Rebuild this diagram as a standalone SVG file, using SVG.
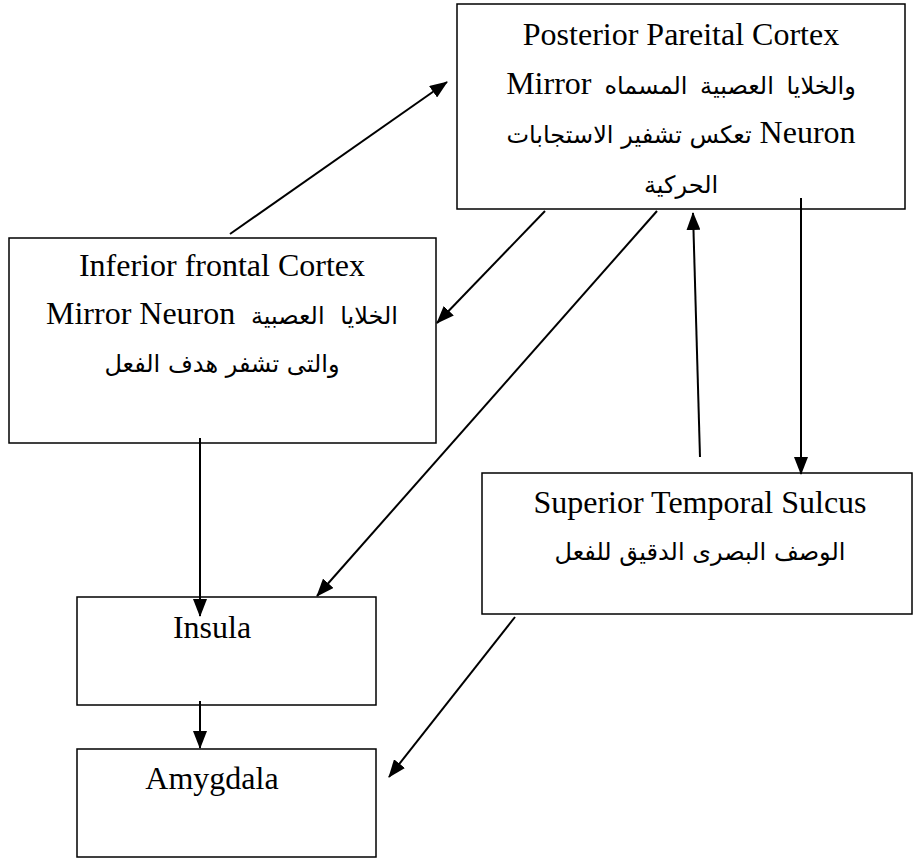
<svg xmlns="http://www.w3.org/2000/svg" width="914" height="859" viewBox="0 0 914 859">
<style>
.box{fill:#fff;stroke:#000;stroke-width:1.5}
.t{font-family:"Liberation Serif","DejaVu Sans",serif;font-size:32px;fill:#000;text-anchor:middle}
.ar{font-family:"DejaVu Sans","Liberation Serif",sans-serif;font-size:24px}
.c{fill:none;stroke:#000;stroke-width:2;marker-end:url(#ah)}
</style>
<defs>
<marker id="ah" markerUnits="userSpaceOnUse" markerWidth="18" markerHeight="14" refX="17" refY="7" orient="auto">
<path d="M0,0 L18,7 L0,14 z" fill="#000"/>
</marker>
</defs>
<rect width="914" height="859" fill="#fff"/>
<g id="posterior">
<rect class="box" x="457" y="4" width="448" height="205"/>
<text class="t" x="681" y="45">Posterior Pareital Cortex</text>
<text class="t" x="681" y="94" direction="rtl" word-spacing="5"><tspan class="ar">والخلايا العصبية المسماه</tspan>  Mirror</text>
<text class="t" x="681" y="143" direction="rtl">Neuron <tspan class="ar">تعكس تشفير الاستجابات</tspan></text>
<text class="t" x="681" y="193" direction="rtl"><tspan class="ar">الحركية</tspan></text>
</g>
<g id="inferior">
<rect class="box" x="9" y="238" width="427" height="205"/>
<text class="t" x="222" y="276">Inferior frontal Cortex</text>
<text class="t" x="222" y="324" direction="rtl"><tspan class="ar" word-spacing="8">الخلايا العصبية </tspan>Mirror Neuron</text>
<text class="t" x="222" y="372" direction="rtl"><tspan class="ar">والتى تشفر هدف الفعل</tspan></text>
</g>
<g id="superior">
<rect class="box" x="482" y="473" width="430" height="141"/>
<text class="t" x="700" y="513">Superior Temporal Sulcus</text>
<text class="t" x="700" y="560" direction="rtl"><tspan class="ar">الوصف البصرى الدقيق للفعل</tspan></text>
</g>
<g id="insula">
<rect class="box" x="77" y="597" width="299" height="108"/>
<text class="t" x="212" y="638">Insula</text>
</g>
<g id="amygdala">
<rect class="box" x="77" y="749" width="299" height="108"/>
<text class="t" x="212" y="789">Amygdala</text>
</g>
<g id="connectors">
<path class="c" d="M230,234 L447,82"/>
<path class="c" d="M545,211 L437,323"/>
<path class="c" d="M657,211 L317,596"/>
<path class="c" d="M700,457 L693,213"/>
<path class="c" d="M801,198 L801,474"/>
<path class="c" d="M200,438 L200,616"/>
<path class="c" d="M200,701 L200,748"/>
<path class="c" d="M515,617 L389,777"/>
</g>
</svg>
